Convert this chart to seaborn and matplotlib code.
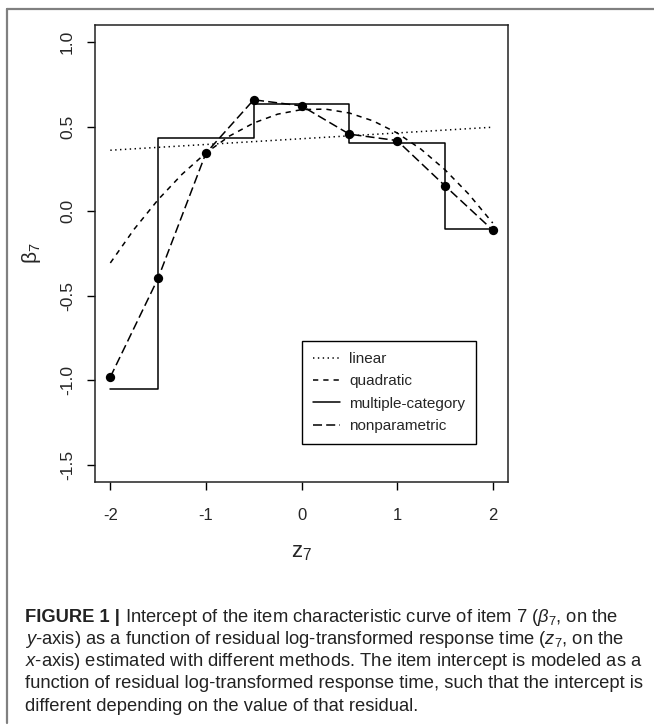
import numpy as np
import pandas as pd
import matplotlib
matplotlib.use("Agg")
import matplotlib.pyplot as plt
from matplotlib.lines import Line2D
import seaborn as sns

# values
z_points = [-2, -1.5, -1, -0.5, 0, 0.5, 1, 1.5, 2]
nonparam = [-0.98, -0.396, 0.343, 0.658, 0.622, 0.455, 0.417, 0.150, -0.112]

step_edges = [-2, -1.5, -0.5, 0.5, 1.5, 2]
step_vals = [-1.05, 0.435, 0.634, 0.405, -0.103, -0.103]

linear_x = [-2, 2]
linear_y = [0.36, 0.496]

quad_x = [-2, -1.75, -1.5, -1.25, -1, -0.75, -0.5, -0.25, 0,
          0.25, 0.5, 0.75, 1, 1.25, 1.5, 1.75, 2]
quad_y = [-0.306, -0.106, 0.068, 0.218, 0.344, 0.445, 0.521, 0.573, 0.600,
          0.603, 0.580, 0.533, 0.462, 0.366, 0.245, 0.100, -0.070]

labels = ["linear", "quadratic", "multiple-category", "nonparametric"]

sns.set_style("ticks")
plt.rcParams['font.family'] = ['Liberation Sans', 'DejaVu Sans']
plt.rcParams['mathtext.fontset'] = 'custom'
plt.rcParams['mathtext.rm'] = 'Liberation Sans'
plt.rcParams['mathtext.it'] = 'Liberation Sans:italic'
plt.rcParams['lines.scale_dashes'] = False

DOT = (0, (1, 2.5))
DASH = (0, (3.8, 3.6))
LONG = (0, (6.5, 3))
lw = 1.1

fig = plt.figure(figsize=(6.54, 7.26), dpi=100)
ax = fig.add_axes([0.1453, 0.3361, 0.6315, 0.6295])

sns.lineplot(x=linear_x, y=linear_y, ax=ax, color="black", lw=lw, linestyle=DOT)
sns.lineplot(x=quad_x, y=quad_y, ax=ax, color="black", lw=lw, linestyle=DASH)
sns.lineplot(x=step_edges, y=step_vals, ax=ax, color="black", lw=lw,
             drawstyle="steps-post", estimator=None)
sns.lineplot(x=z_points, y=nonparam, ax=ax, color="black", lw=lw, linestyle=LONG)
sns.scatterplot(x=z_points, y=nonparam, ax=ax, color="black", s=45,
                edgecolor="black", linewidth=0, zorder=5)

ax.set_xlim(-2.16, 2.16)
ax.set_ylim(-1.6, 1.1)
ax.set_xticks([-2, -1, 0, 1, 2])
ax.set_xticklabels(["-2", "-1", "0", "1", "2"], fontsize=12)
ax.set_yticks([-1.5, -1.0, -0.5, 0.0, 0.5, 1.0])
ax.set_yticklabels(["-1.5", "-1.0", "-0.5", "0.0", "0.5", "1.0"], rotation=90,
                   va="center", fontsize=12.5)
ax.tick_params(length=5.5, width=1, color="black", pad=9)
ax.tick_params(axis="x", pad=13)
for s in ax.spines.values():
    s.set_visible(True)
    s.set_linewidth(1.1)
    s.set_color("#222222")

ax.set_xlabel(r"$\mathrm{z}_7$", fontsize=16, labelpad=14)
ax.set_ylabel(r"$\mathrm{\beta}_7$", fontsize=15, labelpad=12)

handles = [Line2D([], [], color="black", lw=lw, linestyle=DOT),
           Line2D([], [], color="black", lw=lw, linestyle=DASH),
           Line2D([], [], color="black", lw=lw),
           Line2D([], [], color="black", lw=lw, linestyle=LONG)]
leg = ax.legend(handles, labels, loc="lower left", bbox_to_anchor=(0.501, 0.083),
                fontsize=11, frameon=True, fancybox=False,
                framealpha=1, edgecolor="black", handlelength=1.75, handletextpad=0.62,
                labelspacing=0.55, borderpad=0.72, borderaxespad=0)
leg.get_frame().set_linewidth(1.0)

# outer frame of the figure panel
fig.add_artist(Line2D([7/654, 1], [1 - 9/726, 1 - 9/726], transform=fig.transFigure,
                      color="#808080", lw=1.6))
fig.add_artist(Line2D([7/654, 7/654], [1 - 9/726, 1 - 723/726], transform=fig.transFigure,
                      color="#808080", lw=1.6))

# caption
cap_col = "#222222"
cap_size = 13.2
bold = fig.text(25/654, 1 - 617/726, "FIGURE 1 |", fontsize=cap_size, fontweight="bold",
                color=cap_col, va="center")
ax.annotate(r"Intercept of the item characteristic curve of item 7 ($\it{\beta}_7$, on the",
            xy=(1, 0.5), xycoords=bold, xytext=(4, 0), textcoords="offset points",
            fontsize=cap_size, color=cap_col, va="center", annotation_clip=False)
cap_lines = [r"$\it{y}$-axis) as a function of residual log-transformed response time ($\it{z}_7$, on the",
             r"$\it{x}$-axis) estimated with different methods. The item intercept is modeled as a",
             "function of residual log-transformed response time, such that the intercept is",
             "different depending on the value of that residual."]
for i, line in enumerate(cap_lines):
    fig.text(25/654, 1 - (639.5 + 22.2 * i)/726, line, fontsize=cap_size, color=cap_col, va="center")

fig.savefig("out.png", dpi=100)
